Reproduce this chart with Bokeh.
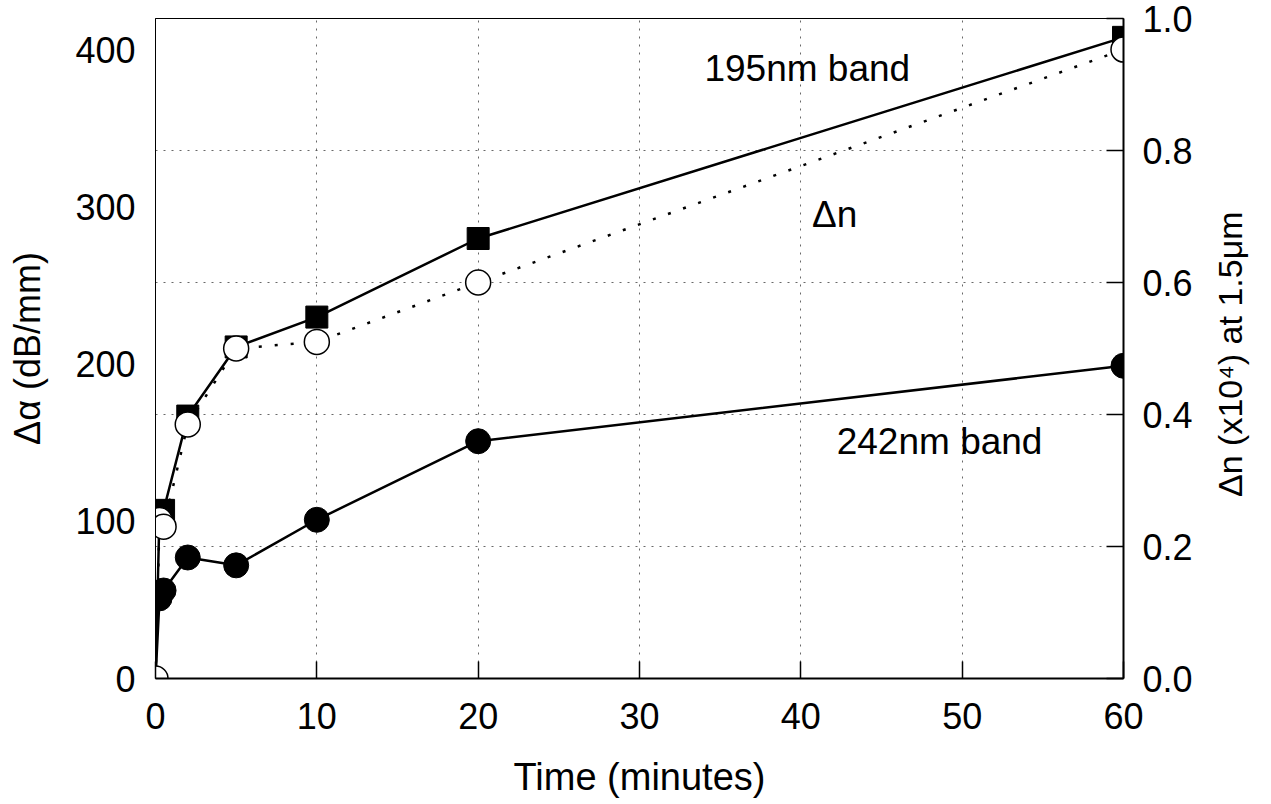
from bokeh.plotting import figure
from bokeh.models import (Range1d, LinearAxis, FixedTicker, Label,
                          PrintfTickFormatter)
from bokeh.embed import file_html
from bokeh.resources import INLINE
import math

# Exposure time (minutes)
time_min = [0, 0.25, 0.5, 2, 5, 10, 20, 60]

# Induced absorption at the 195nm band (dB/mm), first point is the origin
alpha_195 = [0, 106, 107, 167, 211, 230, 280, 408]
# Induced absorption at the 242nm band (dB/mm)
alpha_242 = [0, 51, 56, 77, 72, 101, 151, 199]
# Index change at 1.5um (x10^-4)
delta_n = [0, 0.24, 0.23, 0.385, 0.50, 0.51, 0.60, 0.953]

x_ticks = [0, 10, 20, 30, 40, 50, 60]
alpha_ticks = [0, 100, 200, 300, 400]
dn_ticks = [0.0, 0.2, 0.4, 0.6, 0.8, 1.0]

ALPHA_MAX = 420.0
DN_MAX = 1.0
FONT = "Liberation Sans"
DN_TITLE = "\u0394n (x10\u2074) at 1.5\u03bcm"
# where the rotated right-hand title starts (bottom end of the text)
DN_TITLE_START = 0.275

p = figure(width=1271, height=804, output_backend="svg", toolbar_location=None,
           x_range=Range1d(0, 60), y_range=Range1d(0, ALPHA_MAX),
           min_border_left=155, min_border_right=148,
           min_border_top=18, min_border_bottom=126,
           background_fill_color="white", border_fill_color="white")
p.extra_y_ranges = {"dn": Range1d(0, DN_MAX)}

p.outline_line_color = "black"
p.outline_line_width = 1

# Grid: vertical at time ticks, horizontal at the index-change ticks
p.xgrid.ticker = FixedTicker(ticks=x_ticks[1:-1])
p.ygrid.ticker = FixedTicker(ticks=[t * ALPHA_MAX / DN_MAX for t in dn_ticks[1:-1]])
for g in (p.xgrid[0], p.ygrid[0]):
    g.grid_line_color = "#444444"
    g.grid_line_dash = "2 6"
    g.grid_line_width = 1
    g.grid_line_alpha = 0.8

# Bottom axis
xa = p.xaxis[0]
xa.ticker = FixedTicker(ticks=x_ticks)
xa.axis_label = "Time (minutes)"
xa.major_tick_in = 17
xa.major_tick_out = 0
xa.minor_tick_line_color = None
xa.axis_line_width = 2
xa.major_tick_line_width = 1.5
xa.major_label_standoff = 24
xa.axis_label_standoff = 24

# Left axis
ya = p.yaxis[0]
ya.ticker = FixedTicker(ticks=alpha_ticks)
ya.axis_label = "\u0394\u03b1 (dB/mm)"
ya.major_tick_in = 0
ya.major_tick_out = 0
ya.minor_tick_line_color = None
ya.axis_line_width = 1
ya.major_label_standoff = 20
ya.axis_label_standoff = 24

# Right axis for the index change
ra = LinearAxis(y_range_name="dn", ticker=FixedTicker(ticks=dn_ticks),
                formatter=PrintfTickFormatter(format="%.1f"))
ra.major_tick_in = 17
ra.major_tick_out = 0
ra.minor_tick_line_color = None
ra.axis_line_width = 2
ra.major_tick_line_width = 1.5
ra.major_label_standoff = 19
p.add_layout(ra, "right")

# Title of the right axis, reading bottom to top, set as a single
# rotated label on an otherwise invisible axis
rt = LinearAxis(y_range_name="dn", ticker=FixedTicker(ticks=[DN_TITLE_START]),
                major_label_overrides={DN_TITLE_START: DN_TITLE},
                major_label_orientation=math.pi / 2)
rt.axis_line_color = None
rt.major_tick_line_color = None
rt.minor_tick_line_color = None
rt.major_label_standoff = 28
rt.major_label_text_font = FONT
rt.major_label_text_font_size = "34px"
rt.major_label_text_color = "black"
p.add_layout(rt, "right")

for ax in (xa, ya, ra):
    ax.major_label_text_font = FONT
    ax.major_label_text_font_size = "36px"
    ax.major_label_text_color = "black"
    ax.axis_label_text_font = FONT
    ax.axis_label_text_font_size = "36px"
    ax.axis_label_text_font_style = "normal"
    ax.axis_label_text_color = "black"
    ax.axis_line_color = "black"
    ax.major_tick_line_color = "black"
xa.axis_label_text_font_size = "38px"

# 242nm band: filled circles, solid line
p.line(time_min, alpha_242, line_color="black", line_width=2.5)
p.scatter(time_min[1:], alpha_242[1:], marker="circle", size=25,
          fill_color="black", line_color="black")

# 195nm band: filled squares, solid line
p.line(time_min, alpha_195, line_color="black", line_width=2.5)
p.scatter(time_min[1:], alpha_195[1:], marker="square", size=22,
          fill_color="black", line_color="black")

# Index change: open circles, dotted line, right axis
p.line(time_min, delta_n, y_range_name="dn", line_color="black",
       line_width=2.5, line_dash="3 13")
p.scatter(time_min, delta_n, y_range_name="dn", marker="circle", size=25,
          fill_color="white", line_color="black", line_width=1.5)

# Curve annotations
for txt, tx, ty in (("195nm band", 40.4, 388), ("\u0394n", 42.1, 295),
                    ("242nm band", 48.6, 151)):
    p.add_layout(Label(x=tx, y=ty, text=txt, text_align="center",
                       text_baseline="middle", text_font=FONT,
                       text_font_size="37px", text_color="black"))

open("out.html", "w").write(file_html(p, INLINE))
